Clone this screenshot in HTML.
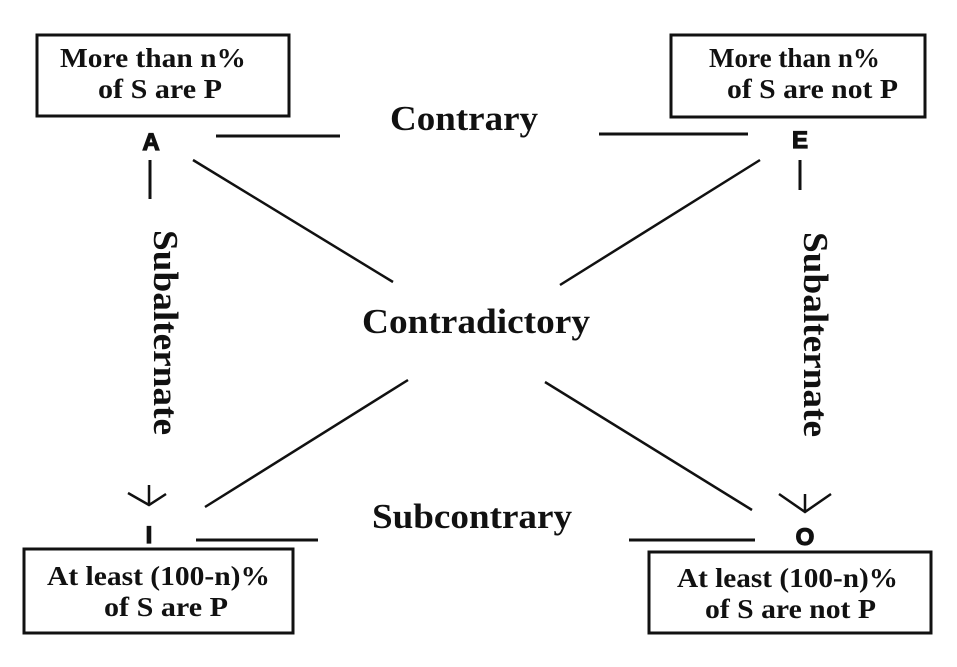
<!DOCTYPE html>
<html><head><style>
html,body{margin:0;padding:0;background:#fff;}
svg{display:block;}
text{font-family:"Liberation Serif",serif;font-weight:bold;fill:#111;}
.s{font-family:"Liberation Sans",sans-serif;font-weight:900;stroke:#111;stroke-width:1.2;}
</style></head><body>
<svg width="957" height="667" viewBox="0 0 957 667" xmlns="http://www.w3.org/2000/svg">
<g fill="none" stroke="#111" stroke-width="3">
<rect x="37" y="35" width="252" height="81"/>
<rect x="671" y="35" width="254" height="82"/>
<rect x="24" y="549" width="269" height="84"/>
<rect x="649" y="552" width="282" height="81"/>
<line x1="216" y1="136" x2="340" y2="136"/>
<line x1="599" y1="134" x2="748" y2="134"/>
<line x1="196" y1="540" x2="318" y2="540"/>
<line x1="629" y1="540" x2="755" y2="540"/>
<line x1="150" y1="160" x2="150" y2="199"/>
<line x1="800" y1="160" x2="800" y2="190"/>
<line x1="193" y1="160" x2="393" y2="282" stroke-width="2.5"/>
<line x1="760" y1="160" x2="560" y2="285" stroke-width="2.5"/>
<line x1="408" y1="380" x2="205" y2="507" stroke-width="2.5"/>
<line x1="545" y1="382" x2="752" y2="510" stroke-width="2.5"/>
<path d="M149 485 V505 M128 493 L149 505 L166 494" stroke-width="2.5"/>
<path d="M805 494 V512 M779 494 L805 512 L831 494" stroke-width="2.5"/>
</g>
<g font-size="27">
<text x="60" y="67" textLength="186" lengthAdjust="spacingAndGlyphs">More than n%</text>
<text x="98" y="98" textLength="124" lengthAdjust="spacingAndGlyphs">of S are P</text>
<text x="709" y="67" textLength="171" lengthAdjust="spacingAndGlyphs">More than n%</text>
<text x="727" y="98" textLength="171" lengthAdjust="spacingAndGlyphs">of S are not P</text>
<text x="47" y="585" textLength="223" lengthAdjust="spacingAndGlyphs">At least (100-n)%</text>
<text x="104" y="616" textLength="124" lengthAdjust="spacingAndGlyphs">of S are P</text>
<text x="677" y="587" textLength="221" lengthAdjust="spacingAndGlyphs">At least (100-n)%</text>
<text x="705" y="618" textLength="171" lengthAdjust="spacingAndGlyphs">of S are not P</text>
</g>
<g font-size="35">
<text x="390" y="130" textLength="148" lengthAdjust="spacingAndGlyphs">Contrary</text>
<text x="362" y="333" textLength="228" lengthAdjust="spacingAndGlyphs">Contradictory</text>
<text x="372" y="528" textLength="200" lengthAdjust="spacingAndGlyphs">Subcontrary</text>
<text transform="translate(154,230) rotate(90)" textLength="205" lengthAdjust="spacingAndGlyphs">Subalternate</text>
<text transform="translate(804,232) rotate(90)" textLength="205" lengthAdjust="spacingAndGlyphs">Subalternate</text>
</g>
<g font-size="24" text-anchor="middle">
<text class="s" x="151" y="150">A</text>
<text class="s" x="800" y="148">E</text>
<text class="s" x="149" y="543">I</text>
<text class="s" x="805" y="545">O</text>
</g>
</svg>
</body></html>
